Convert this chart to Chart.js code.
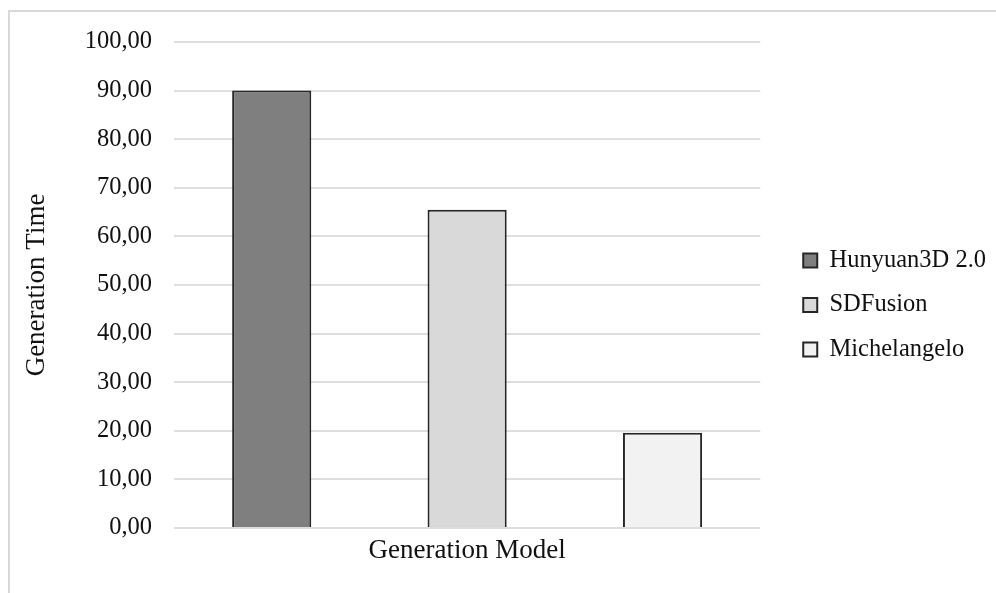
<!DOCTYPE html>
<html>
<head>
<meta charset="utf-8">
<script src="https://cdn.jsdelivr.net/npm/chart.js@4"></script>
<style>
  body { margin: 0; background: #fff; }
  #wrap { position: relative; width: 996px; height: 593px; overflow: hidden; }
  #frame { position: absolute; left: 8px; top: 10px; width: 1000px; height: 600px; border: 2px solid #d9d9d9; }
  #myChart { position: absolute; left: 0; top: 0; }
</style>
</head>
<body>
<div id="wrap">
  <div id="frame"></div>
  <canvas id="myChart" width="996" height="593"></canvas>
</div>
<script>
const models = ['Hunyuan3D 2.0', 'SDFusion', 'Michelangelo'];
const times = [90.0, 65.5, 19.6];
const colors = ['#7f7f7f', '#d9d9d9', '#f2f2f2'];
const yTicks = [0, 10, 20, 30, 40, 50, 60, 70, 80, 90, 100];

const ctx = document.getElementById('myChart');
const font = "'Liberation Serif', 'Times New Roman', serif";

new Chart(ctx, {
  type: 'bar',
  data: {
    labels: [''],
    datasets: models.map((m, i) => ({
      label: m,
      data: [times[i]],
      backgroundColor: colors[i],
      borderColor: '#262626',
      borderWidth: 2,
      yAxisID: 'y'
    }))
  },
  options: {
    responsive: false,
    animation: false,
    categoryPercentage: 1,
    barPercentage: 0.405,
    layout: { padding: { top: 42, left: 10, right: 0, bottom: 25 } },
    plugins: {
      tooltip: { enabled: false },
      legend: {
        position: 'right',
        maxWidth: 260,
        labels: {
          boxWidth: 14,
          boxHeight: 14,
          padding: 20,
          color: '#111',
          font: { family: font, size: 24.5 }
        }
      }
    },
    scales: {
      x: {
        grid: { display: false },
        border: { display: false },
        ticks: { display: false },
        title: {
          display: true,
          text: 'Generation Model',
          color: '#111',
          font: { family: font, size: 27 },
          padding: { top: 0, bottom: 1 }
        },
        afterFit: s => { s.height = 40; }
      },
      y: {
        min: 0,
        max: 100,
        afterBuildTicks: s => { s.ticks = yTicks.map(v => ({ value: v })); },
        grid: { color: '#dedede', lineWidth: 2, drawTicks: false },
        border: { display: false },
        ticks: {
          padding: 22,
          color: '#111',
          font: { family: font, size: 24.5 },
          callback: v => v.toFixed(2).replace('.', ',')
        },
        title: {
          display: true,
          text: 'Generation Time',
          color: '#111',
          font: { family: font, size: 27 },
          padding: { top: 11, bottom: 0 }
        },
        afterFit: s => { s.width = 164; }
      },
      gap: {
        type: 'linear',
        position: 'right',
        grid: { display: false },
        border: { display: false },
        ticks: { display: false },
        afterFit: s => { s.width = 23; }
      }
    }
  }
});
</script>
</body>
</html>
